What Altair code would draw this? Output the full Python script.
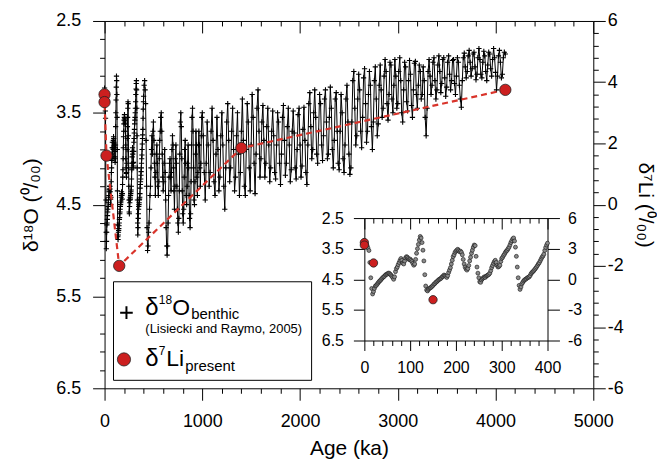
import altair as alt
import numpy as np
import pandas as pd

# ---------------- data ----------------
# benthic d18O, 0-400 ka every 2 ka
d18o_0_400 = [
    3.23, 3.28, 3.32, 3.40, 3.48, 3.56, 3.95, 4.45, 4.80, 4.98,
    4.90, 4.80, 4.72, 4.70, 4.66, 4.62, 4.58, 4.55, 4.52, 4.48,
    4.45, 4.42, 4.40, 4.36, 4.34, 4.33, 4.30, 4.30, 4.33, 4.36,
    4.40, 4.44, 4.50, 4.42, 4.25, 4.15, 4.10, 4.02, 3.95, 3.88,
    3.82, 3.88, 3.97, 4.00, 3.90, 3.80, 3.76, 3.78, 3.82, 3.86,
    3.84, 3.88, 3.92, 3.98, 4.04, 4.00, 3.85, 3.65, 3.50, 3.36,
    3.22, 3.10, 3.15, 3.30, 3.55, 3.90, 4.35, 4.72, 4.85, 4.88,
    4.83, 4.80, 4.78, 4.76, 4.73, 4.70, 4.66, 4.64, 4.60, 4.58,
    4.55, 4.52, 4.50, 4.48, 4.46, 4.42, 4.40, 4.36, 4.38, 4.40,
    4.44, 4.38, 4.28, 4.20, 4.12, 4.00, 3.88, 3.76, 3.70, 3.62,
    3.58, 3.55, 3.52, 3.56, 3.60, 3.58, 3.62, 3.70, 3.85, 4.00,
    4.10, 4.16, 4.20, 4.15, 4.05, 3.90, 3.78, 3.65, 3.55, 3.45,
    3.38, 3.40, 3.75, 4.10, 4.30, 4.45, 4.58, 4.60, 4.52, 4.48,
    4.45, 4.42, 4.44, 4.40, 4.38, 4.36, 4.34, 4.30, 4.22, 4.12,
    4.05, 3.98, 3.92, 3.88, 3.95, 4.05, 4.10, 4.08, 4.04, 3.92,
    3.82, 3.78, 3.72, 3.68, 3.62, 3.58, 3.55, 3.50, 3.45, 3.38,
    3.30, 3.24, 3.18, 3.15, 3.25, 3.45, 3.75, 4.10, 4.45, 4.70,
    4.83, 4.75, 4.65, 4.60, 4.55, 4.52, 4.50, 4.48, 4.45, 4.44,
    4.42, 4.38, 4.32, 4.28, 4.25, 4.22, 4.18, 4.14, 4.10, 4.05,
    4.00, 3.96, 3.90, 3.84, 3.78, 3.74, 3.68, 3.56, 3.46, 3.38,
    3.32,
]
# 405-1000 ka every 5 ka
d18o_405_1000 = [
    3.20, 3.15, 3.25, 3.40, 3.80, 4.30, 4.75, 5.00, 4.95, 4.80,
    4.70, 4.55, 4.40, 4.30, 4.10, 3.90, 3.75, 3.95, 3.70, 3.60,
    3.80, 4.05, 4.20, 4.40, 4.15, 3.95, 3.85, 4.05, 4.30, 4.40,
    4.25, 4.00, 3.80, 3.70, 3.55, 3.50, 3.70, 3.95, 4.20, 4.35,
    4.25, 4.05, 3.90, 4.15, 4.45, 4.75, 4.95, 5.05, 4.95, 4.70,
    4.40, 4.20, 4.05, 4.00, 4.20, 4.35, 4.15, 3.90, 3.75, 3.85,
    4.10, 4.35, 4.55, 4.30, 4.00, 3.85, 4.05, 4.30, 4.55, 4.70,
    4.80, 4.65, 4.35, 3.95, 3.60, 3.50, 3.65, 4.00, 4.35, 4.60,
    4.70, 4.55, 4.20, 3.90, 3.80, 4.05, 4.40, 4.50, 4.30, 4.05,
    3.85, 4.10, 4.40, 4.65, 4.75, 4.60, 4.25, 3.85, 3.55, 3.45,
    3.70, 4.10, 4.45, 4.50, 4.25, 3.95, 3.70, 3.85, 4.20, 4.40,
    4.15, 3.85, 3.70, 3.85, 4.10, 4.30, 4.05, 3.75, 3.55, 3.50,
]
# 1010-2000 ka every 10 ka
d18o_1010_2000 = [
    3.75, 4.15, 4.45, 4.05, 3.60, 3.85, 4.30, 4.15, 3.70, 3.45,
    3.80, 4.25, 4.40, 3.95, 3.55, 3.90, 4.35, 4.20, 3.75, 3.50,
    3.85, 4.30, 4.55, 4.10, 3.60, 3.40, 3.80, 4.25, 4.10, 3.70,
    3.45, 3.90, 4.35, 4.20, 3.75, 3.50, 3.95, 4.40, 4.15, 3.70,
    3.35, 3.80, 4.30, 4.40, 3.90, 3.40, 3.60, 4.10, 4.35, 3.85,
    3.30, 3.55, 4.05, 4.38, 3.95, 3.45, 3.25, 3.70, 4.20, 4.00,
    3.60, 3.42, 3.80, 4.20, 4.05, 3.65, 3.45, 3.85, 4.25, 4.10,
    3.70, 3.48, 3.75, 4.15, 4.22, 3.85, 3.50, 3.60, 4.05, 4.28,
    3.95, 3.55, 3.42, 3.80, 4.18, 4.05, 3.65, 3.45, 3.85, 4.25,
    4.12, 3.70, 3.48, 3.72, 4.10, 4.22, 3.90, 3.52, 3.45, 3.85,
]
# 2010-3000 ka every 10 ka
d18o_2010_3000 = [
    4.20, 4.08, 3.68, 3.44, 3.80, 4.15, 4.28, 3.85, 3.40, 3.28,
    3.65, 4.00, 3.90, 3.50, 3.25, 3.55, 3.95, 4.05, 3.70, 3.30,
    3.40, 3.85, 4.02, 3.75, 3.35, 3.25, 3.60, 4.00, 3.95, 3.55,
    3.22, 3.45, 3.90, 4.10, 3.80, 3.35, 3.28, 3.70, 4.05, 4.12,
    3.70, 3.30, 3.50, 4.00, 4.15, 3.85, 3.35, 3.20, 3.60, 3.95,
    4.17, 4.10, 3.60, 3.15, 3.05, 3.45, 3.85, 3.75, 3.35, 3.08,
    3.25, 3.70, 3.88, 3.55, 3.12, 3.02, 3.40, 3.82, 3.70, 3.30,
    3.05, 3.20, 3.65, 3.90, 3.60, 3.15, 3.00, 3.35, 3.75, 3.62,
    3.20, 2.98, 3.25, 3.55, 3.45, 3.10, 2.92, 3.05, 3.40, 3.58,
    3.30, 2.95, 2.98, 3.35, 3.50, 3.20, 2.92, 3.10, 3.45, 3.40,
]
# 3010-4100 ka every 10 ka
d18o_3010_4100 = [
    3.05, 2.90, 3.15, 3.50, 3.60, 3.25, 2.95, 3.00, 3.38, 3.48,
    3.15, 2.93, 3.08, 3.42, 3.55, 3.25, 2.96, 2.94, 3.30, 3.45,
    3.20, 2.98, 3.05, 3.35, 3.30, 3.00, 3.15, 3.55, 3.75, 3.45,
    3.05, 2.92, 3.10, 3.30, 3.20, 2.95, 2.90, 3.15, 3.35, 3.25,
    2.98, 2.88, 3.05, 3.28, 3.18, 2.92, 2.90, 3.12, 3.32, 3.22,
    2.95, 2.88, 3.08, 3.25, 3.15, 2.93, 2.92, 3.18, 3.30, 3.10,
    2.90, 2.95, 3.20, 3.35, 3.44, 3.15, 2.90, 2.85, 3.00, 3.12,
    3.05, 2.88, 2.82, 2.95, 3.10, 3.02, 2.86, 2.84, 3.00, 3.14,
    3.08, 2.90, 2.80, 2.92, 3.08, 3.12, 2.95, 2.83, 2.88, 3.05,
    3.15, 2.98, 2.84, 2.86, 3.02, 3.10, 2.92, 2.80, 2.90, 3.06,
    3.25, 3.10, 2.88, 2.82, 2.95, 3.12, 3.08, 2.90, 2.84, 2.86,
]
age_main = np.concatenate([
    np.arange(0, 401, 2), np.arange(405, 1001, 5), np.arange(1010, 2001, 10),
    np.arange(2010, 3001, 10), np.arange(3010, 4101, 10),
])
d18o_main = d18o_0_400 + d18o_405_1000 + d18o_1010_2000 + d18o_2010_3000 + d18o_3010_4100

li_age = [0, 0, 20, 150, 1400, 4100]
li_val = [3.60, 3.35, 1.60, -2.00, 1.85, 3.75]

# axis tick values
x_ticks = list(range(0, 5001, 200))
yl_ticks = [round(2.5 + 0.2 * i, 1) for i in range(21)]
yr_ticks = [round(-6 + 0.4 * i, 1) for i in range(31)]
in_x_ticks = list(range(0, 401, 20))
in_yl_ticks = [2.5, 3.5, 4.5, 5.5, 6.5]
in_yr_ticks = [-6, -3, 0, 3, 6]

main_df = pd.DataFrame({"age": age_main, "d18o": d18o_main})
inset_df = main_df[main_df["age"] <= 400]
li_df = pd.DataFrame({"age": li_age, "li": li_val, "order": list(range(len(li_age)))})
inset_li = li_df[li_df["age"] <= 400]
one = pd.DataFrame({"k": [0]})

# ---------------- layout ----------------
W, H = 491, 369
IN_X = [261, 445]
IN_Y = [198, 321]
FONT = "Liberation Sans"
RED = "#cc1f1f"
PLUS = "M-1,0L1,0M0,-1L0,1"


def cond(test, major, minor):
    return {"condition": {"test": test, "value": major}, "value": minor}


x_main = alt.Scale(domain=[0, 5000], nice=False, zero=False)
y_main = alt.Scale(domain=[2.5, 6.5], reverse=True, nice=False, zero=False)
y_li = alt.Scale(domain=[-6, 6], nice=False, zero=False)
x_in = alt.Scale(domain=[0, 400], range=IN_X, nice=False, zero=False)
y_in = alt.Scale(domain=[2.5, 6.5], range=IN_Y, nice=False, zero=False)
y_li_in = alt.Scale(domain=[-6, 6], range=[IN_Y[1], IN_Y[0]], nice=False, zero=False)

ax_bottom = alt.Axis(
    orient="bottom", values=x_ticks,
    tickSize=cond("datum.value % 1000 === 0", 12, 5),
    labelExpr="datum.value % 1000 === 0 ? toString(datum.value) : ''",
    title="Age (ka)", labelPadding=12, titlePadding=8, titleFontSize=21,
)
ax_top = alt.Axis(
    orient="bottom", offset=-H, values=x_ticks,
    tickSize=cond("datum.value % 1000 === 0", 12, 5),
    labels=False, title=None,
)
ax_left = alt.Axis(
    orient="left", values=yl_ticks,
    tickSize=cond("indexof([2.5,3.5,4.5,5.5,6.5], datum.value) >= 0", 12, 5),
    labelExpr="indexof([2.5,3.5,4.5,5.5,6.5], datum.value) >= 0 ? toString(datum.value) : ''",
    title="δ¹⁸O (⁰/₀₀)", labelPadding=12, titlePadding=14,
)
ax_right = alt.Axis(
    orient="right", values=yr_ticks,
    tickSize=cond("datum.value % 2 === 0", 12, 5),
    labelExpr="datum.value % 2 === 0 ? toString(datum.value) : ''",
    title="δ⁷Li (⁰/₀₀)", labelPadding=2, titlePadding=11,
)
ax_in_top = alt.Axis(
    orient="bottom", offset=IN_Y[0] - H, values=in_x_ticks,
    tickSize=cond("datum.value % 100 === 0", 11, 5),
    labels=False, title=None,
)
ax_in_bottom = alt.Axis(
    orient="bottom", offset=IN_Y[1] - H, values=in_x_ticks,
    tickSize=cond("datum.value % 100 === 0", 10, 5),
    labelExpr="datum.value % 100 === 0 ? toString(datum.value) : ''",
    labelFontSize=16, labelPadding=9, title=None,
)
ax_in_left = alt.Axis(
    orient="left", offset=-IN_X[0], values=in_yl_ticks, tickSize=11,
    labelExpr="toString(datum.value)", labelFontSize=16, labelPadding=10, title=None,
)
ax_in_right = alt.Axis(
    orient="right", offset=IN_X[1] - W, values=in_yr_ticks, tickSize=12,
    labelExpr="toString(datum.value)", labelFontSize=16, labelPadding=8, title=None,
)

# ---------------- main panel ----------------
main_line = alt.Chart(main_df).mark_line(color="black", strokeWidth=1).encode(
    x=alt.X("age:Q", scale=x_main, axis=ax_bottom),
    y=alt.Y("d18o:Q", scale=y_main, axis=ax_left),
)
main_plus = alt.Chart(main_df).mark_point(
    shape=PLUS, filled=False, stroke="black", strokeWidth=1.1, size=28, opacity=1
).encode(
    x=alt.X("age:Q", scale=x_main, axis=ax_top),
    y=alt.Y("d18o:Q", scale=y_main, axis=None),
)
li_line = alt.Chart(li_df).mark_line(color="#d9342b", strokeWidth=2.2, strokeDash=[6, 4]).encode(
    x=alt.X("age:Q", scale=x_main, axis=None),
    y=alt.Y("li:Q", scale=y_li, axis=ax_right),
    order=alt.Order("order:Q"),
)
li_pts = alt.Chart(li_df).mark_point(
    shape="circle", filled=True, fill=RED, stroke="#222222", strokeWidth=0.8, size=130, opacity=1
).encode(
    x=alt.X("age:Q", scale=x_main, axis=None),
    y=alt.Y("li:Q", scale=y_li, axis=None),
)

# ---------------- legend ----------------
leg_box = alt.Chart(one).mark_rect(fill="white", stroke="black", strokeWidth=1).encode(
    x=alt.value(9), x2=alt.value(208), y=alt.value(262), y2=alt.value(361)
)
leg_plus = alt.Chart(one).mark_point(
    shape=PLUS, filled=False, stroke="black", strokeWidth=2, size=160, opacity=1
).encode(x=alt.value(22), y=alt.value(293))
leg_dot = alt.Chart(one).mark_point(
    shape="circle", filled=True, fill=RED, stroke="#222222", strokeWidth=0.8, size=175, opacity=1
).encode(x=alt.value(19.5), y=alt.value(340))


def txt(s, x, y, size):
    return alt.Chart(one).mark_text(
        text=s, align="left", baseline="alphabetic", font=FONT, fontSize=size, color="black"
    ).encode(x=alt.value(x), y=alt.value(y))


legend_texts = [
    txt("δ", 41, 295, 24),
    txt("18", 54.5, 284, 12),
    txt("O", 68, 295, 23),
    txt("benthic", 87, 299, 15),
    txt("(Lisiecki and Raymo, 2005)", 41, 313, 13),
    txt("δ", 41, 347, 24),
    txt("7", 54.5, 336, 12),
    txt("Li", 62, 347, 23),
    txt("present", 81, 352, 15),
]

# ---------------- inset ----------------
in_pts = alt.Chart(inset_df).mark_point(
    shape="circle", filled=True, fill="#8a8a8a", stroke="#111111", strokeWidth=0.6, size=16, opacity=1
).encode(
    x=alt.X("age:Q", scale=x_in, axis=ax_in_top),
    y=alt.Y("d18o:Q", scale=y_in, axis=ax_in_left),
)
in_li = alt.Chart(inset_li).mark_point(
    shape="circle", filled=True, fill=RED, stroke="#222222", strokeWidth=0.8, size=70, opacity=1
).encode(
    x=alt.X("age:Q", scale=x_in, axis=ax_in_bottom),
    y=alt.Y("li:Q", scale=y_li_in, axis=ax_in_right),
)

chart = alt.layer(
    main_line, main_plus, li_line, li_pts, leg_box, leg_plus, leg_dot, *legend_texts, in_pts, in_li
).resolve_scale(
    x="independent", y="independent"
).properties(
    width=W, height=H, padding={"left": 12, "top": 3, "right": 1, "bottom": 0}
).configure_view(
    stroke=None
).configure_axis(
    domainColor="black", tickColor="black", labelColor="black", titleColor="black",
    labelFont=FONT, titleFont=FONT, titleFontWeight="normal", labelFontSize=18,
    titleFontSize=21, grid=False, labelFlush=False, labelOverlap=False,
    domainWidth=1, tickWidth=1,
)

chart.save("out.html", embed_options={"renderer": "svg", "actions": False})
